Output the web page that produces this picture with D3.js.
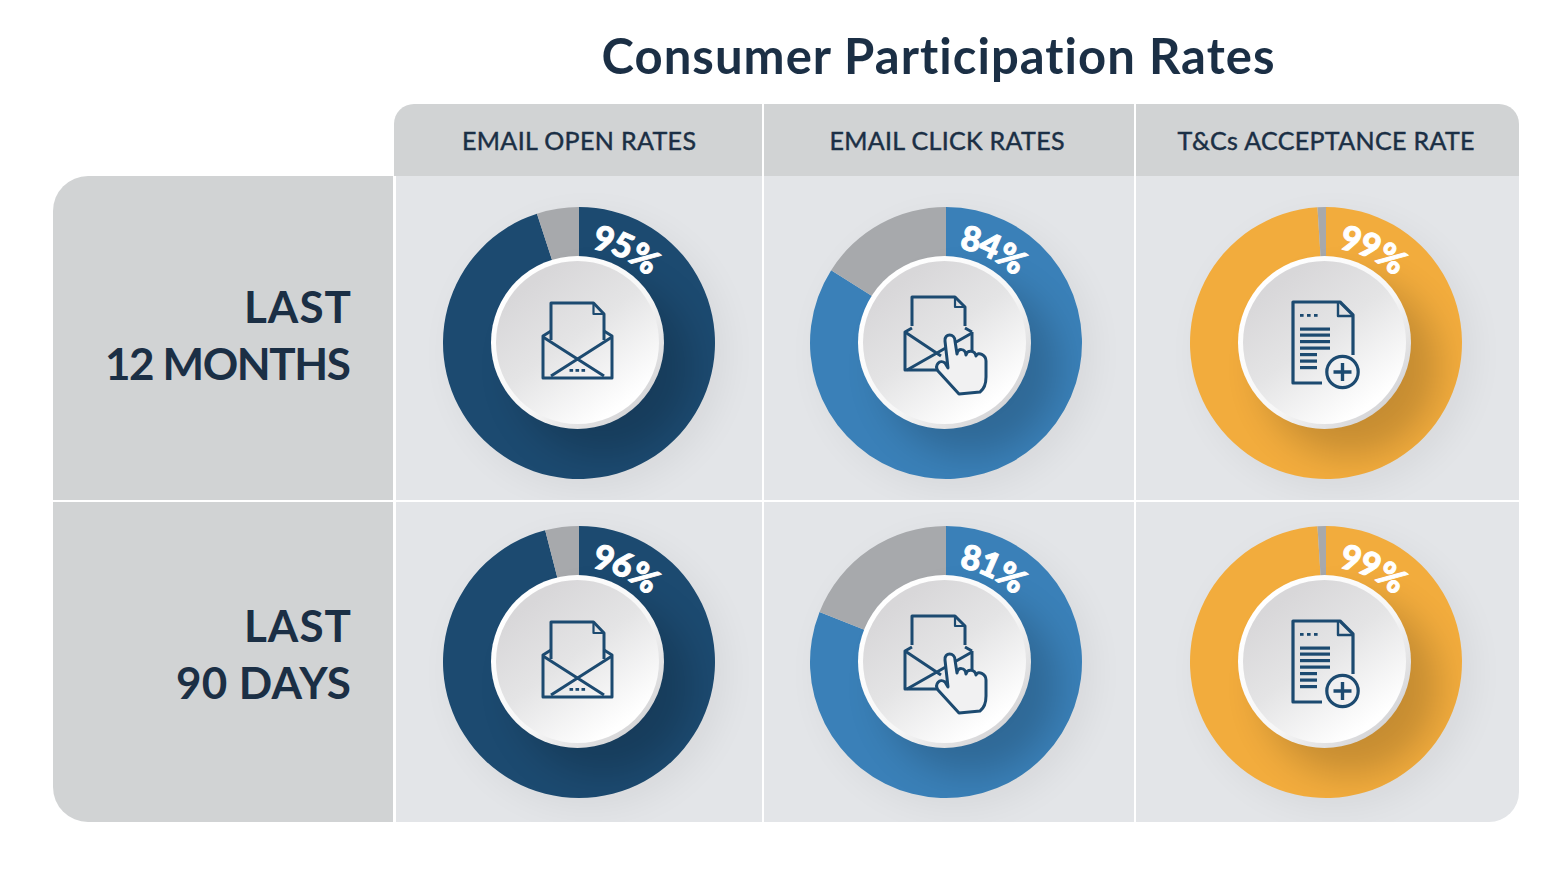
<!DOCTYPE html>
<html>
<head>
<meta charset="utf-8">
<script src="https://cdn.jsdelivr.net/npm/d3@7"></script>
<style>
    html, body { margin: 0; padding: 0; background: #fff; }
    svg { display: block; }
    text { font-family: Lato, "Open Sans", sans-serif; fill: #1b2f45; font-variant-ligatures: none; }
</style>
</head>
<body>
<div id="chart"></div>
<script>
// Chart values
const titleText = "Consumer Participation Rates";
const metrics = ["EMAIL OPEN RATES", "EMAIL CLICK RATES", "T&Cs ACCEPTANCE RATE"];
const periods = [["LAST", "12 MONTHS"], ["LAST", "90 DAYS"]];
const emailOpen = [95, 96];
const emailClick = [84, 81];
const termsAccept = [99, 99];
const metricValues = [emailOpen, emailClick, termsAccept];
const metricColors = ["#1c4a70", "#3a80b8", "#f2ac3d"];
const metricIcons = ["envelope", "click", "document"];

const width = 1557,
    height = 883;

// Grid edges, the cells are not all the same width
const colEdges = [396, 762, 764, 1134, 1136, 1519];
const rowEdges = [176, 500, 502, 822];
const centerX = [579, 946, 1326];
const centerY = [343, 662];
const outerR = 136,
    hubR = 86.5;

// Widths the headings have to fill, Lato runs a bit narrower or wider than the original face
const metricWidths = [234, 235, 297];
const periodWidths = [[107, 246], [107, 175]];

const svg = d3
    .select("#chart")
    .append("svg")
    .attr("width", width)
    .attr("height", height);

const defs = svg.append("defs");

// Corners go top-left, top-right, bottom-right, bottom-left
function roundRect(x0, y0, x1, y1, r) {
    const p = d3.path();
    p.moveTo(x0 + r[0], y0);
    p.lineTo(x1 - r[1], y0);
    p.arcTo(x1, y0, x1, y0 + r[1], r[1]);
    p.lineTo(x1, y1 - r[2]);
    p.arcTo(x1, y1, x1 - r[2], y1, r[2]);
    p.lineTo(x0 + r[3], y1);
    p.arcTo(x0, y1, x0, y1 - r[3], r[3]);
    p.lineTo(x0, y0 + r[0]);
    p.arcTo(x0, y0, x0 + r[0], y0, r[0]);
    p.closePath();
    return p.toString();
}

// Gradients and filters
const hubFill = defs
    .append("linearGradient")
    .attr("id", "hubFill")
    .attr("x1", "0.2")
    .attr("y1", "0.15")
    .attr("x2", "0.75")
    .attr("y2", "0.9");
hubFill.append("stop").attr("offset", "0%").attr("stop-color", "#d8d7d9");
hubFill.append("stop").attr("offset", "45%").attr("stop-color", "#e4e4e5");
hubFill.append("stop").attr("offset", "100%").attr("stop-color", "#ffffff");

const hubRim = defs
    .append("linearGradient")
    .attr("id", "hubRim")
    .attr("x1", "0.15")
    .attr("y1", "0.15")
    .attr("x2", "0.85")
    .attr("y2", "0.85");
hubRim.append("stop").attr("offset", "0%").attr("stop-color", "#ffffff");
hubRim.append("stop").attr("offset", "60%").attr("stop-color", "#f6f6f6");
hubRim.append("stop").attr("offset", "100%").attr("stop-color", "#d6d6d8");

defs.append("filter")
    .attr("id", "softBlur")
    .attr("x", "-50%")
    .attr("y", "-50%")
    .attr("width", "200%")
    .attr("height", "200%")
    .append("feGaussianBlur")
    .attr("stdDeviation", 18);

// Background panels
const panelClip = roundRect(394, 104, 1519, 822, [20, 20, 30, 0]);
defs.append("clipPath").attr("id", "panelClip").append("path").attr("d", panelClip);

const panels = svg.append("g");
panels
    .append("path")
    .attr("d", roundRect(53, 176, 393, 822, [35, 0, 0, 35]))
    .attr("fill", "#d1d3d4");
panels
    .append("rect")
    .attr("x", 53)
    .attr("y", 500)
    .attr("width", 343)
    .attr("height", 2)
    .attr("fill", "#fff");

const cells = panels.append("g").attr("clip-path", "url(#panelClip)");
metrics.forEach((m, c) => {
    const x0 = c === 0 ? 394 : colEdges[c * 2];
    const x1 = colEdges[c * 2 + 1];
    cells
        .append("rect")
        .attr("x", x0)
        .attr("y", 104)
        .attr("width", x1 - x0)
        .attr("height", 72)
        .attr("fill", "#d1d3d4");
    periods.forEach((p, r) => {
        cells
            .append("rect")
            .attr("x", colEdges[c * 2])
            .attr("y", rowEdges[r * 2])
            .attr("width", x1 - colEdges[c * 2])
            .attr("height", rowEdges[r * 2 + 1] - rowEdges[r * 2])
            .attr("fill", "#e3e5e8");
    });
});

// Panel shadows stay inside their own cell
metricValues.forEach((values, c) => {
    values.forEach((value, r) => {
        const clipId = "cell" + c + "-" + r;
        defs.append("clipPath")
            .attr("id", clipId)
            .append("rect")
            .attr("x", colEdges[c * 2])
            .attr("y", rowEdges[r * 2])
            .attr("width", colEdges[c * 2 + 1] - colEdges[c * 2])
            .attr("height", rowEdges[r * 2 + 1] - rowEdges[r * 2]);
        svg.append("g")
            .attr("clip-path", "url(#" + clipId + ")")
            .append("circle")
            .attr("cx", centerX[c] + 10)
            .attr("cy", centerY[r] + 10)
            .attr("r", outerR)
            .attr("fill", "#000")
            .attr("opacity", 0.05)
            .attr("filter", "url(#softBlur)");
    });
});

// Titles and headings
svg.append("text")
    .attr("x", 938)
    .attr("y", 74)
    .attr("text-anchor", "middle")
    .attr("font-size", 49)
    .attr("font-weight", 700)
    .attr("textLength", 673)
    .text(titleText);

svg.append("g")
    .selectAll("text")
    .data(metrics)
    .enter()
    .append("text")
    .attr("x", (d, i) => centerX[i] + (i === 1 ? 1 : 0))
    .attr("y", 150)
    .attr("text-anchor", "middle")
    .attr("font-size", 25)
    .attr("font-weight", 400)
    .attr("stroke", "#1b2f45")
    .attr("stroke-width", 0.45)
    .attr("textLength", (d, i) => metricWidths[i])
    .text((d) => d);

periods.forEach((lines, r) => {
    svg.append("g")
        .selectAll("text")
        .data(lines)
        .enter()
        .append("text")
        .attr("x", 351)
        .attr("y", (d, i) => centerY[r] - 20 + i * 57)
        .attr("text-anchor", "end")
        .attr("font-size", 44)
        .attr("font-weight", 700)
        .attr("textLength", (d, i) => periodWidths[r][i])
        .text((d) => d);
});

// Donut pieces, the share runs clockwise from 12 o'clock
const pie = d3.pie().sort(null).value((d) => d);
const arc = d3.arc().innerRadius(hubR - 4).outerRadius(outerR);
const labelR = 95;

// Icons are drawn around the ring centre
const iconColor = "#1c4a70";

function strokePath(g, d, sw, fill) {
    return g
        .append("path")
        .attr("d", d)
        .attr("fill", fill || "none")
        .attr("stroke", iconColor)
        .attr("stroke-width", sw || 3)
        .attr("stroke-linejoin", "round");
}

function dots(g, xs, y) {
    g.selectAll(null)
        .data(xs)
        .enter()
        .append("rect")
        .attr("x", (d) => d)
        .attr("y", y)
        .attr("width", 3.6)
        .attr("height", 2.8)
        .attr("fill", iconColor);
}

function bars(g, ys, w) {
    g.selectAll(null)
        .data(ys)
        .enter()
        .append("rect")
        .attr("x", -26)
        .attr("y", (d) => d - 1.5)
        .attr("width", w)
        .attr("height", 3.2)
        .attr("fill", iconColor);
}

const icons = {
    envelope(g) {
        strokePath(g, "M-28,-3V-40H14.5L25,-29V-3");
        strokePath(g, "M14.5,-40V-29H25", 2.2);
        strokePath(g, "M-28,-12L-36,-7V35H33V-7L25,-12");
        strokePath(g, "M-36,-6L25,33M33,-6L-28,33");
        dots(g, [-9.5, -3.5, 2.5], 26);
    },
    click(g) {
        strokePath(g, "M-34,-17V-46H9L19,-36V-17");
        strokePath(g, "M9,-46V-36H19", 2.2);
        strokePath(g, "M-34,-15L-41,-11V27H-6M26,-11L19,-15M26,-11V8");
        strokePath(g, "M-41,-11L-5,13M26,-10L-39,27");
        strokePath(
            g,
            "M2,25L-1,-2C-2,-10 9,-10 9,-2L11,11C12,5 19,5 20,12C21,7 29,7 30,13C32,8 40,12 40,18L40,34C40,40 38,46 34,49L13,51L-8,28C-12,22 -6,16 -1,20Z",
            3,
            "#f1f1f2"
        );
    },
    document(g) {
        strokePath(g, "M-4,40H-33V-41H14L27,-28V12", 3.2);
        strokePath(g, "M12,-41V-27H27", 2.4);
        dots(g, [-26, -19, -12], -29);
        bars(g, [-14, -8, -1.5, 5], 30);
        bars(g, [11.5, 18, 24.5], 17);
        g.append("circle")
            .attr("cx", 16.5)
            .attr("cy", 29)
            .attr("r", 15.7)
            .attr("fill", "#f0f0f1")
            .attr("stroke", iconColor)
            .attr("stroke-width", 3.2);
        strokePath(g, "M16.5,20V38M7.5,29H25.5", 3.4);
    },
};

metricValues.forEach((values, c) => {
    values.forEach((value, r) => {
        const id = "d" + c + "-" + r;
        const g = svg
            .append("g")
            .attr("transform", "translate(" + centerX[c] + "," + centerY[r] + ")");

        g.selectAll(".slice")
            .data(pie([value, 100 - value]))
            .enter()
            .append("path")
            .attr("class", "slice")
            .attr("d", arc)
            .attr("fill", (d, i) => (i === 0 ? metricColors[c] : "#a7a9ac"));

        // Hub shadow falls on the ring only
        defs.append("clipPath")
            .attr("id", "ring" + id)
            .append("circle")
            .attr("r", outerR);
        g.append("g")
            .attr("clip-path", "url(#ring" + id + ")")
            .append("circle")
            .attr("cx", 24)
            .attr("cy", 24)
            .attr("r", hubR + 2)
            .attr("fill", "#000")
            .attr("opacity", 0.18)
            .attr("filter", "url(#softBlur)");

        // Percent label bends along the ring
        defs.append("path")
            .attr("id", "label" + id)
            .attr("d", "M0," + -labelR + "A" + labelR + "," + labelR + " 0 0,1 " + labelR + ",0");
        g.append("text")
            .attr("font-size", 34)
            .attr("font-weight", 900)
            .attr("letter-spacing", -2)
            .style("fill", "#fff")
            .attr("stroke", "#fff")
            .attr("stroke-width", 1)
            .attr("stroke-linejoin", "round")
            .append("textPath")
            .attr("href", "#label" + id)
            .attr("startOffset", 13)
            .text(value + "%");

        // Hub sits a touch up and left of the ring centre
        const hub = g.append("g").attr("transform", "translate(-1.5,-0.5)");
        hub.append("circle").attr("r", hubR).attr("fill", "url(#hubRim)");
        hub.append("circle").attr("r", hubR - 5).attr("fill", "url(#hubFill)");

        icons[metricIcons[c]](g.append("g"));
    });
});
</script>
</body>
</html>
